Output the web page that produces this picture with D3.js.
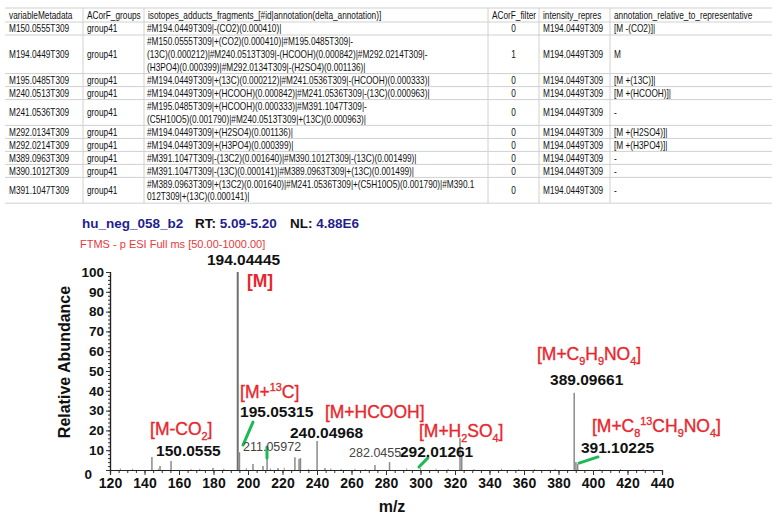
<!DOCTYPE html>
<html>
<head>
<meta charset="utf-8">
<script src="https://cdn.jsdelivr.net/npm/d3@7"></script>
<style>
body { margin: 0; background: #fff; }
</style>
</head>
<body>
<script>
// ---- table data
var headers = ["variableMetadata", "ACorF_groups", "isotopes_adducts_fragments_[#id|annotation(delta_annotation)]",
  "ACorF_filter", "intensity_repres", "annotation_relative_to_representative"];
var varMeta = ["M150.0555T309", "M194.0449T309", "M195.0485T309", "M240.0513T309", "M241.0536T309",
  "M292.0134T309", "M292.0214T309", "M389.0963T309", "M390.1012T309", "M391.1047T309"];
var groups = ["group41", "group41", "group41", "group41", "group41", "group41", "group41", "group41", "group41", "group41"];
var isoLines = [
  ["#M194.0449T309|-(CO2)(0.000410)|"],
  ["#M150.0555T309|+(CO2)(0.000410)|#M195.0485T309|-",
   "(13C)(0.000212)|#M240.0513T309|-(HCOOH)(0.000842)|#M292.0214T309|-",
   "(H3PO4)(0.000399)|#M292.0134T309|-(H2SO4)(0.001136)|"],
  ["#M194.0449T309|+(13C)(0.000212)|#M241.0536T309|-(HCOOH)(0.000333)|"],
  ["#M194.0449T309|+(HCOOH)(0.000842)|#M241.0536T309|-(13C)(0.000963)|"],
  ["#M195.0485T309|+(HCOOH)(0.000333)|#M391.1047T309|-",
   "(C5H10O5)(0.001790)|#M240.0513T309|+(13C)(0.000963)|"],
  ["#M194.0449T309|+(H2SO4)(0.001136)|"],
  ["#M194.0449T309|+(H3PO4)(0.000399)|"],
  ["#M391.1047T309|-(13C2)(0.001640)|#M390.1012T309|-(13C)(0.001499)|"],
  ["#M391.1047T309|-(13C)(0.000141)|#M389.0963T309|+(13C)(0.001499)|"],
  ["#M389.0963T309|+(13C2)(0.001640)|#M241.0536T309|+(C5H10O5)(0.001790)|#M390.1",
   "012T309|+(13C)(0.000141)|"]
];
var filterVals = [0, 1, 0, 0, 0, 0, 0, 0, 0, 0];
var reprVals = ["M194.0449T309", "M194.0449T309", "M194.0449T309", "M194.0449T309", "M194.0449T309",
  "M194.0449T309", "M194.0449T309", "M194.0449T309", "M194.0449T309", "M194.0449T309"];
var relAnnot = ["[M -(CO2)]|", "M", "[M +(13C)]|", "[M +(HCOOH)]|", "-", "[M +(H2SO4)]|", "[M +(H3PO4)]|", "-", "-", "-"];

// ---- spectrum data
var peakMz = [144.3, 149.0, 155.4, 179.7, 194.04, 195.05, 202.9, 208.7, 211.06, 217.4, 227.2, 229.6, 230.4,
  240.05, 244.6, 273.6, 282.05, 322.9, 323.9, 389.10, 390.10, 391.10];
var peakInt = [6.6, 2, 4.5, 1, 100, 9, 3, 2, 5.5, 1, 6.5, 5.5, 6, 14.6, 1, 2.5, 4, 16, 7, 39, 4, 3];
var noiseMz = [126, 133, 148, 167, 172, 186, 199, 213, 221, 235, 248, 254, 262, 268, 292, 300, 309, 316,
  331, 347, 357, 366, 378, 404, 416, 429];
var noiseInt = [0.8, 0.6, 0.7, 0.5, 0.6, 0.7, 1, 0.8, 1.2, 0.6, 0.8, 0.5, 0.7, 0.5, 0.8, 0.9, 0.6, 0.5,
  0.5, 0.6, 0.4, 0.5, 0.6, 0.4, 0.5, 0.4];
var mzTicks = d3.range(120, 441, 20);
var abTicks = d3.range(0, 101, 10);

var numLabels = ["194.04445", "195.05315", "150.0555", "240.04968", "292.01261", "389.09661", "391.10225"];
var numMz = [176.2, 195.4, 146.7, 224.3, 288.1, 375.1, 393.0];
var numInt = [103.5, 26.8, 7.1, 16.2, 6.6, 42.9, 8.6];
var minorLabels = ["211.05972", "282.0455"];
var minorMz = [197.1, 258.6];
var minorInt = [9.6, 6.6];
var ionLabels = ["[M]", "[M+^{13}C]", "[M-CO_{2}]", "[M+HCOOH]", "[M+H_{2}SO_{4}]", "[M+C_{9}H_{9}NO_{4}]", "[M+C_{8}^{13}CH_{9}NO_{4}]"];
var ionMz = [199.4, 195.4, 143.2, 244.6, 299.1, 367.5, 399.4];
var ionInt = [92.4, 36.4, 17.7, 26.3, 16.7, 55.6, 19.2];
var greenLinks = [[202.9, 24.2, 197.1, 12.6], [211.0, 11.6, 211.0, 6.1], [299.1, 1.5, 304.3, 6.1], [391.9, 3.5, 402.9, 6.6]];

var svg = d3.select("body").append("svg")
  .attr("width", 778)
  .attr("height", 522)
  .style("font-family", "'Liberation Sans', Arial, sans-serif");

// ================= table =================
var colEdges = [5, 83, 144, 488, 539, 610, 772];
var tableTop = 8, headH = 14, lineH = 12.6;
var rowTops = [], y0 = tableTop + headH;
isoLines.forEach(function(l) {
  var h = l.length * 12.8 + 0.2;
  rowTops.push({ top: y0, h: h });
  y0 += h;
});
var tableBottom = y0;

var tbl = svg.append("g").style("font-size", "10.6px").style("fill", "#111");
var gridColor = "#d0d0d0";

// horizontal rules
var hl = [tableTop, tableTop + headH].concat(rowTops.map(function(r) { return r.top + r.h; }));
tbl.selectAll(".hl").data(hl).enter().append("line")
  .attr("x1", colEdges[0]).attr("x2", colEdges[6])
  .attr("y1", function(d) { return d; }).attr("y2", function(d) { return d; })
  .style("stroke", gridColor).style("stroke-width", 1);
// vertical rules
tbl.selectAll(".vl").data(colEdges.slice(1, 6)).enter().append("line")
  .attr("x1", function(d) { return d; }).attr("x2", function(d) { return d; })
  .attr("y1", tableTop).attr("y2", tableBottom)
  .style("stroke", gridColor).style("stroke-width", 1);

function cellText(x, y, txt, anchor) {
  tbl.append("text")
    .attr("transform", "translate(" + x + "," + y + ") scale(0.78,1)")
    .style("text-anchor", anchor || "start")
    .text(txt);
}

headers.forEach(function(h, i) {
  cellText(colEdges[i] + 4, tableTop + 11, h);
});

rowTops.forEach(function(r, i) {
  var mid = r.top + r.h / 2 + 3.8;
  cellText(colEdges[0] + 4, mid, varMeta[i]);
  cellText(colEdges[1] + 4, mid, groups[i]);
  isoLines[i].forEach(function(line, j) {
    cellText(colEdges[2] + 3, r.top + 10.3 + j * lineH, line);
  });
  cellText((colEdges[3] + colEdges[4]) / 2, mid, filterVals[i], "middle");
  cellText(colEdges[4] + 4, mid, reprVals[i]);
  cellText(colEdges[5] + 4, mid, relAnnot[i]);
});

// ================= spectrum =================
var x = d3.scaleLinear().domain([120, 440]).range([110, 662]);
var y = d3.scaleLinear().domain([0, 100]).range([470, 272]);

var spec = svg.append("g");

// header texts
var hdr = spec.append("text").attr("x", 82).attr("y", 228).style("font-size", "13.5px").style("font-weight", "bold");
hdr.append("tspan").style("fill", "#1f1f8f").text("hu_neg_058_b2");
hdr.append("tspan").attr("x", 195).style("fill", "#111").text("RT: ");
hdr.append("tspan").style("fill", "#1f1f8f").text("5.09-5.20");
hdr.append("tspan").attr("x", 290).style("fill", "#111").text("NL: ");
hdr.append("tspan").style("fill", "#1f1f8f").text("4.88E6");

spec.append("text").attr("x", 80).attr("y", 248)
  .style("font-size", "11px").style("fill", "#e8383d")
  .text("FTMS - p ESI Full ms [50.00-1000.00]");

// noise + peaks
spec.selectAll(".noise").data(noiseMz).enter().append("line")
  .attr("x1", function(d) { return x(d); }).attr("x2", function(d) { return x(d); })
  .attr("y1", y(0)).attr("y2", function(d, i) { return y(noiseInt[i]); })
  .style("stroke", "#999").style("stroke-width", 1);

spec.selectAll(".peak").data(peakMz).enter().append("line")
  .attr("x1", function(d) { return x(d); }).attr("x2", function(d) { return x(d); })
  .attr("y1", y(0)).attr("y2", function(d, i) { return y(peakInt[i]); })
  .style("stroke", function(d, i) { return peakInt[i] > 50 ? "#6f6f6f" : "#8a8a8a"; })
  .style("stroke-width", function(d, i) { return peakInt[i] > 50 ? 2 : 1.5; });

// axes
var xMinor = d3.axisBottom(x).tickValues(d3.range(120, 441, 5)).tickSize(3).tickFormat("");
var xMajor = d3.axisBottom(x).tickValues(mzTicks).tickSize(5).tickPadding(3);
var yMinor = d3.axisLeft(y).tickValues(d3.range(0, 101, 2)).tickSize(2).tickFormat("");
var yMajor = d3.axisLeft(y).tickValues(abTicks).tickSize(4).tickPadding(2);

spec.append("g").attr("transform", "translate(0," + y(0) + ")").call(xMinor);
spec.append("g").attr("class", "xaxis").attr("transform", "translate(0," + y(0) + ")").call(xMajor);
spec.append("g").attr("transform", "translate(" + x(120) + ",0)").call(yMinor);
spec.append("g").attr("class", "yaxis").attr("transform", "translate(" + x(120) + ",0)").call(yMajor);

spec.selectAll(".domain").style("stroke", "#222").style("stroke-width", 1.2);
spec.selectAll(".tick line").style("stroke", "#333");
spec.selectAll(".xaxis .tick text").style("font-size", "14px").style("font-weight", "bold")
  .style("font-family", "'Liberation Sans', Arial, sans-serif").style("fill", "#111");
spec.selectAll(".yaxis .tick text").style("font-size", "13.5px").style("font-weight", "bold")
  .style("font-family", "'Liberation Sans', Arial, sans-serif").style("fill", "#111");
spec.selectAll(".yaxis .tick").filter(function(d) { return d === 0; }).select("text")
  .attr("x", -18).attr("dy", "0.6em");

// axis titles
spec.append("text")
  .attr("transform", "translate(70,362) rotate(-90)")
  .style("text-anchor", "middle").style("font-size", "16px").style("font-weight", "bold").style("fill", "#111")
  .text("Relative Abundance");
spec.append("text").attr("x", 392).attr("y", 512)
  .style("text-anchor", "middle").style("font-size", "16px").style("font-weight", "bold").style("fill", "#111")
  .text("m/z");

// green connectors
spec.selectAll(".link").data(greenLinks).enter().append("line")
  .attr("x1", function(d) { return x(d[0]); }).attr("y1", function(d) { return y(d[1]); })
  .attr("x2", function(d) { return x(d[2]); }).attr("y2", function(d) { return y(d[3]); })
  .style("stroke", "#1db954").style("stroke-width", 3).style("stroke-linecap", "round");

// peak labels
spec.selectAll(".num").data(numLabels).enter().append("text")
  .attr("x", function(d, i) { return x(numMz[i]); })
  .attr("y", function(d, i) { return y(numInt[i]); })
  .style("font-size", "15.5px").style("font-weight", "bold").style("fill", "#111")
  .text(function(d) { return d; });

spec.selectAll(".minor").data(minorLabels).enter().append("text")
  .attr("x", function(d, i) { return x(minorMz[i]); })
  .attr("y", function(d, i) { return y(minorInt[i]); })
  .style("font-size", "12.5px").style("fill", "#444")
  .text(function(d) { return d; });

function richText(sel, str, size) {
  var parts = str.split(/(_\{[^}]*\}|\^\{[^}]*\})/).filter(function(s) { return s.length; });
  var shift = 0;
  parts.forEach(function(p) {
    var target = 0, txt = p, fs = size;
    if (p[0] === "_") { target = size * 0.28; txt = p.slice(2, -1); fs = size * 0.62; }
    else if (p[0] === "^") { target = -size * 0.38; txt = p.slice(2, -1); fs = size * 0.62; }
    sel.append("tspan").attr("dy", target - shift).style("font-size", fs + "px").text(txt);
    shift = target;
  });
}

ionLabels.forEach(function(lab, i) {
  var t = spec.append("text")
    .attr("x", x(ionMz[i])).attr("y", y(ionInt[i]))
    .style("fill", "#e8262d")
    .style("stroke", "#e8262d").style("stroke-width", i === 0 ? 0 : 0.35)
    .style("font-weight", i === 0 ? "bold" : "normal");
  richText(t, lab, 17.5);
});
</script>
</body>
</html>
